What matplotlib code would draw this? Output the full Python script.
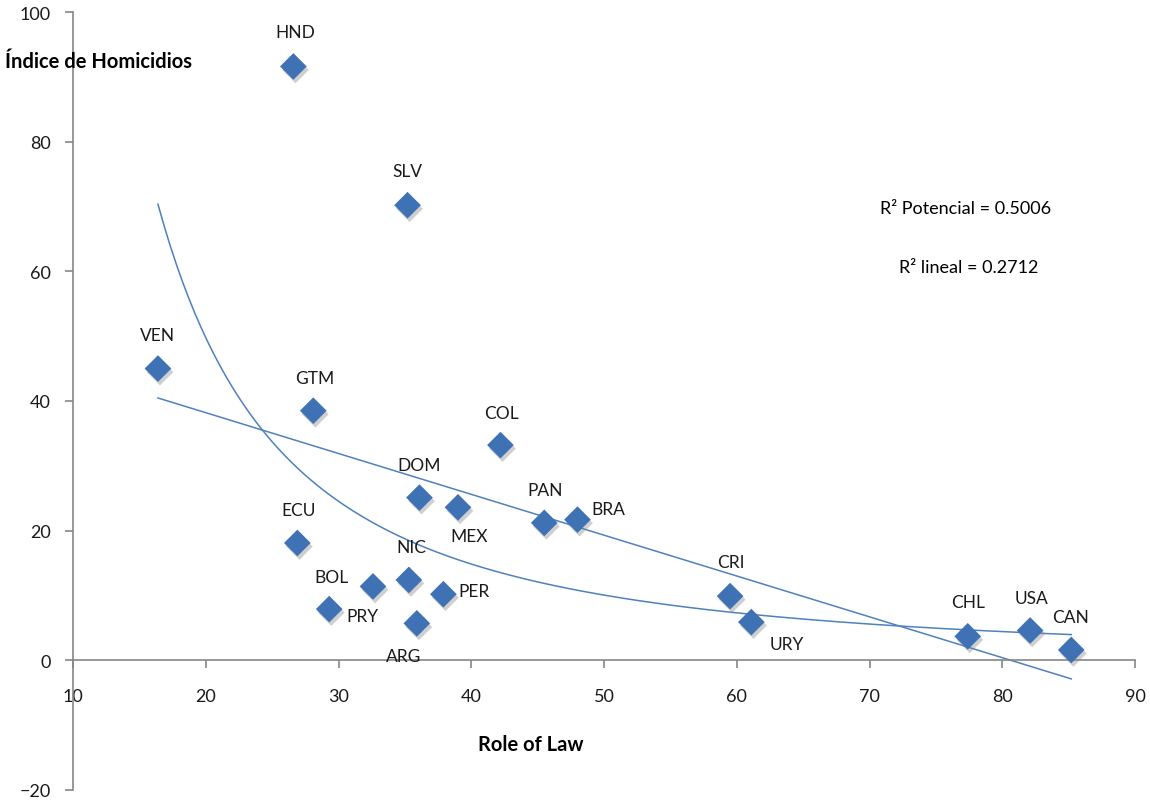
import numpy as np
import matplotlib
matplotlib.use('Agg')
import matplotlib.pyplot as plt
import matplotlib.patheffects as pe

plt.rcParams['font.family'] = ['Lato', 'DejaVu Sans']

# datos por país
paises = ['HND', 'SLV', 'VEN', 'GTM', 'COL', 'DOM', 'MEX', 'PAN', 'BRA', 'ECU',
          'NIC', 'BOL', 'PRY', 'PER', 'ARG', 'CRI', 'URY', 'CHL', 'USA', 'CAN']
role_of_law = [26.6, 35.2, 16.4, 28.1, 42.2, 36.1, 39.0, 45.5, 48.0, 26.9,
               35.3, 32.6, 29.3, 37.9, 35.9, 59.5, 61.1, 77.4, 82.1, 85.2]
homicidios = [91.6, 70.2, 45.0, 38.5, 33.2, 25.1, 23.6, 21.2, 21.7, 18.1,
              12.4, 11.4, 7.9, 10.2, 5.7, 9.9, 5.9, 3.7, 4.6, 1.6]

# desplazamiento de cada etiqueta (pixeles)
offsets = {'HND': (2, 34), 'SLV': (0, 34), 'VEN': (0, 34), 'GTM': (1, 33),
           'COL': (1, 32), 'DOM': (0, 33), 'MEX': (11, -29), 'PAN': (1, 33),
           'BRA': (31, 11), 'ECU': (1, 33), 'NIC': (3, 33), 'BOL': (-42, 9),
           'PRY': (33, -7), 'PER': (31, 3), 'ARG': (-13, -33), 'CRI': (1, 34),
           'URY': (35, -22), 'CHL': (0, 34), 'USA': (1, 33), 'CAN': (-1, 33)}

azul = '#3F72B5'
linea = '#4F81BD'

x = np.array(role_of_law)
y = np.array(homicidios)

fig = plt.figure(figsize=(11.5, 8.03), dpi=100)
ax = fig.add_axes([73 / 1150, 12 / 803, 1062 / 1150, 778 / 803])

# tendencias lineal y potencial
xs = np.linspace(x.min(), x.max(), 300)
m, b = np.polyfit(x, y, 1)
ax.plot(xs, m * xs + b, color=linea, lw=1.1)
bp, lna = np.polyfit(np.log(x), np.log(y), 1)
ax.plot(xs, np.exp(lna) * xs ** bp, color=linea, lw=1.1)

ax.scatter(x, y, marker='D', s=185, color=azul, edgecolors='none', zorder=3,
           path_effects=[pe.SimplePatchShadow(offset=(1.5, -2.5), shadow_rgbFace='#888888', alpha=0.4),
                         pe.Normal()])

for p, xi, yi in zip(paises, x, y):
    dx, dy = offsets[p]
    ax.annotate(p, (xi, yi), xytext=(dx, dy), textcoords='offset pixels',
                ha='center', va='center', fontsize=12.5, color='#1a1a1a')

ax.text(0.84, 0.748, 'R² Potencial = 0.5006', transform=ax.transAxes,
        ha='center', va='center', fontsize=13)
ax.text(0.843, 0.672, 'R² lineal = 0.2712', transform=ax.transAxes,
        ha='center', va='center', fontsize=13)

ax.set_xlim(10, 90)
ax.set_ylim(-20, 100)
ax.set_xticks(np.arange(10, 91, 10))
ax.set_yticks(np.arange(-20, 101, 20))

ax.spines['top'].set_visible(False)
ax.spines['right'].set_visible(False)
ax.spines['bottom'].set_position(('data', 0))
for s in ['left', 'bottom']:
    ax.spines[s].set_color('#868686')
    ax.spines[s].set_linewidth(1.2)
ax.tick_params(axis='both', direction='out', length=6, width=1.2, color='#868686',
               labelsize=13, labelcolor='#1a1a1a')
ax.tick_params(axis='x', pad=14)
ax.tick_params(axis='y', pad=10)

fig.text(5 / 1150, 1 - 62 / 803, 'Índice de Homicidios', fontsize=14.5, fontweight='bold',
         ha='left', va='center')
fig.text(531 / 1150, 1 - 745 / 803, 'Role of Law', fontsize=14.5, fontweight='bold',
         ha='center', va='center')

fig.savefig('out.png', dpi=100)
